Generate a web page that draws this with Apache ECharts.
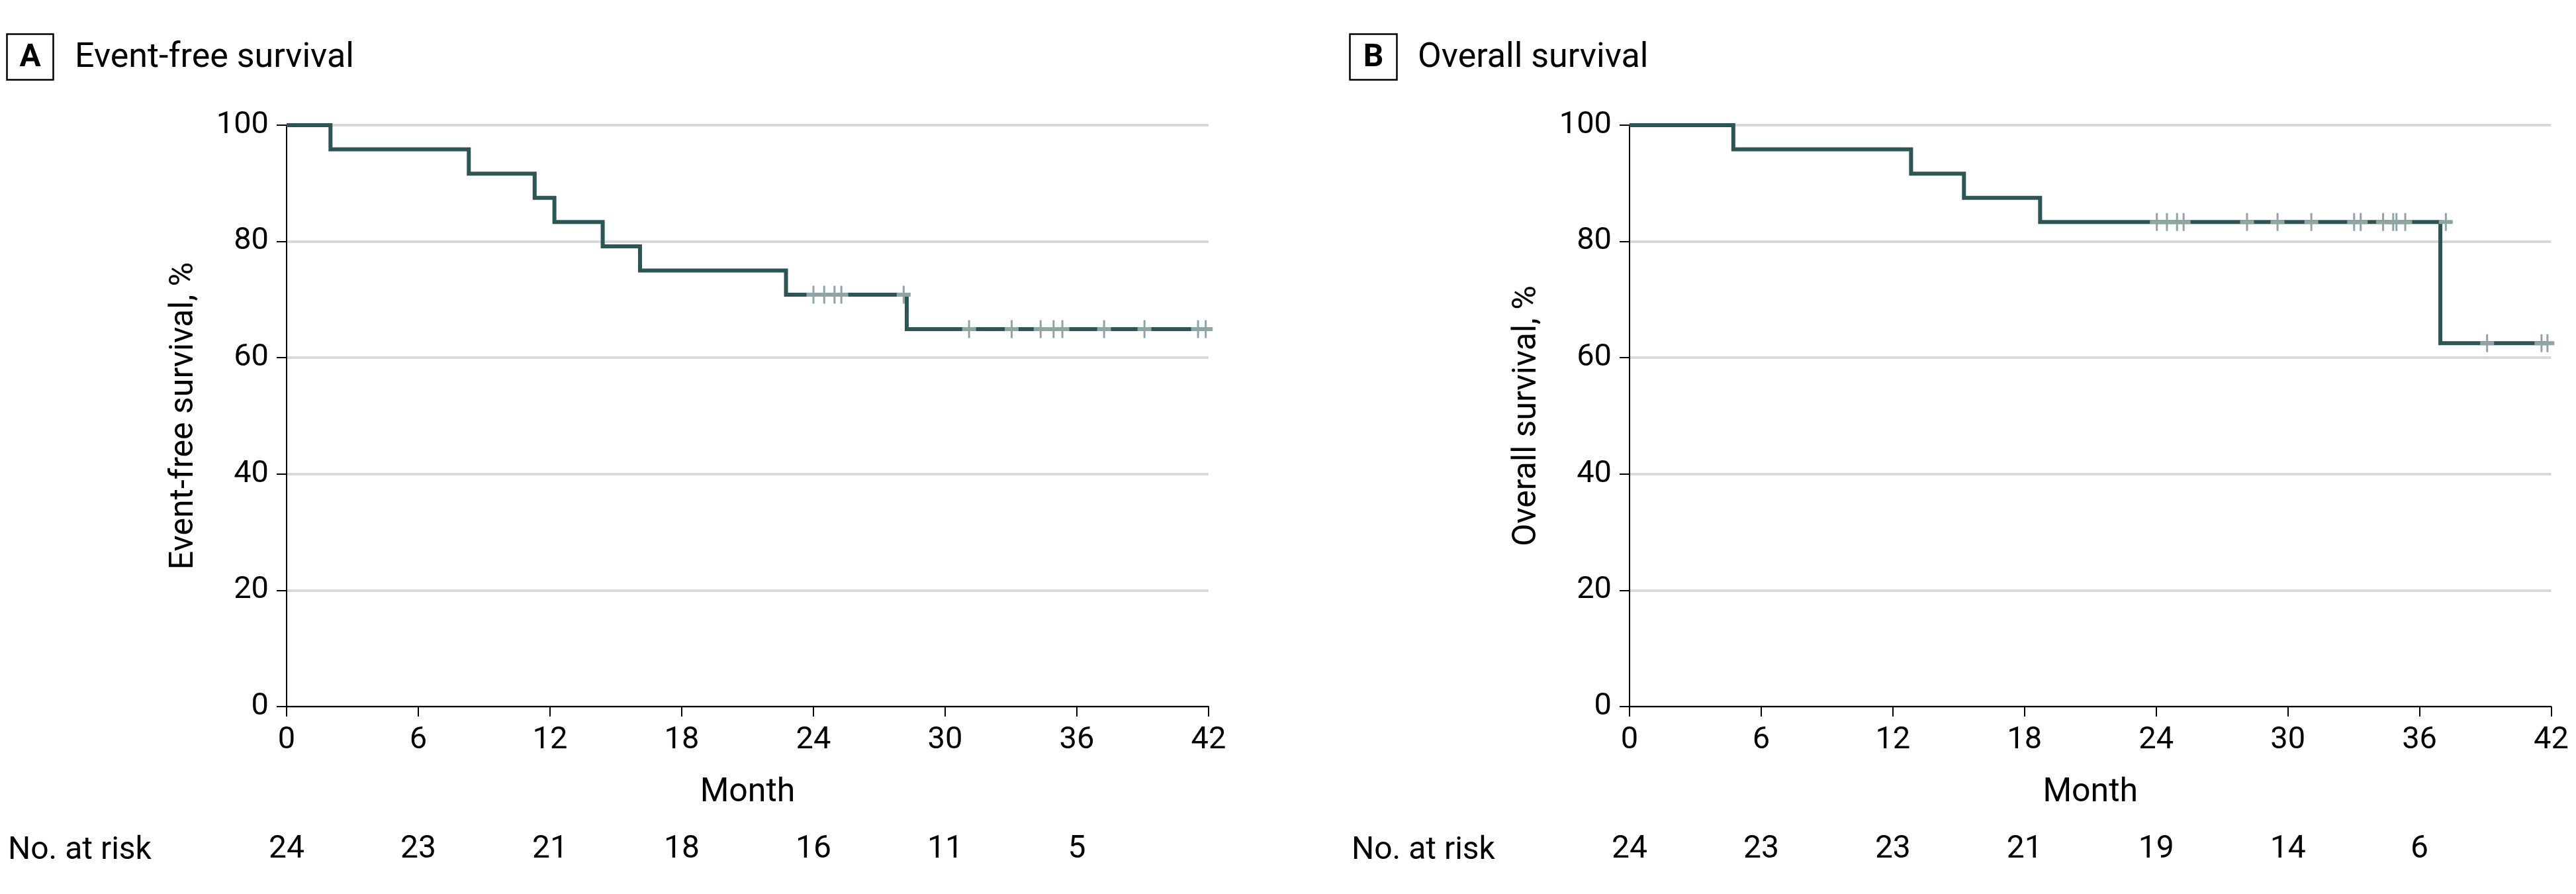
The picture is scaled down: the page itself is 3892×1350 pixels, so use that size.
<!DOCTYPE html>
<html><head><meta charset="utf-8">
<script src="https://cdn.jsdelivr.net/npm/echarts@6/dist/echarts.min.js"></script>
<style>html,body{margin:0;padding:0;background:#fff}#c{width:3892px;height:1350px}</style>
</head><body><div id="c"></div>
<script>
// ---- Data ----
const xTicks = [0, 6, 12, 18, 24, 30, 36, 42];
const yTicks = [0, 20, 40, 60, 80, 100];
const riskMonths = [0, 6, 12, 18, 24, 30, 36];
const efsRisk = [24, 23, 21, 18, 16, 11, 5];
const osRisk = [24, 23, 23, 21, 19, 14, 6];

// Event-free survival step curve (month, %)
const efsTimes = [0, 2.0, 8.3, 11.3, 12.2, 14.4, 16.1, 22.75, 28.25, 41.87];
const efsSurv  = [100, 95.83, 91.67, 87.5, 83.33, 79.17, 75.0, 70.83, 64.93, 64.93];
// EFS censor marks
const efsCensT = [24.0, 24.49, 24.96, 25.27, 28.11, 31.09, 33.03, 34.35, 34.94, 35.34, 37.24, 39.08, 41.52, 41.87];
const efsCensS = [70.83, 70.83, 70.83, 70.83, 70.83, 64.93, 64.93, 64.93, 64.93, 64.93, 64.93, 64.93, 64.93, 64.93];

// Overall survival step curve
const osTimes = [0, 4.73, 12.83, 15.24, 18.71, 36.95, 41.83];
const osSurv  = [100, 95.83, 91.67, 87.5, 83.33, 62.5, 62.5];
const osCensT = [24.03, 24.49, 24.95, 25.25, 28.14, 29.53, 31.07, 33.02, 33.32, 34.34, 34.8, 34.95, 35.35, 37.2, 39.08, 41.56, 41.83];
const osCensS = [83.33, 83.33, 83.33, 83.33, 83.33, 83.33, 83.33, 83.33, 83.33, 83.33, 83.33, 83.33, 83.33, 83.33, 62.5, 62.5, 62.5];

// ---- Chart ----
const FONT = 'Roboto';
const CURVE = '#2b5654', CENS = '#8fa5a3', GRIDC = '#d9d9d9';
const censorPath = 'path://M9,0H12V10.5H21V16.5H12V27H9V16.5H0V10.5H9Z';
const zip = (a, b) => a.map((v, i) => [v, b[i]]);

function mainX(gi) {
  return {gridIndex: gi, type: 'value', min: 0, max: 42, interval: 6,
    axisLine: {lineStyle: {color: '#000', width: 2}},
    axisTick: {length: 15, lineStyle: {color: '#000', width: 2}},
    axisLabel: {fontFamily: FONT, fontSize: 47, color: '#000', margin: 28,
      customValues: xTicks},
    splitLine: {show: false},
    name: 'Month', nameLocation: 'middle', nameGap: 105,
    nameTextStyle: {fontFamily: FONT, fontSize: 50, color: '#000'}};
}
function mainY(gi, name) {
  return {gridIndex: gi, type: 'value', min: 0, max: 100, interval: 20,
    axisLine: {show: true, lineStyle: {color: '#000', width: 2}},
    axisTick: {show: true, length: 15, lineStyle: {color: '#000', width: 2}},
    axisLabel: {fontFamily: FONT, fontSize: 47, color: '#000', margin: 27},
    splitLine: {show: true, lineStyle: {color: GRIDC, width: 4}},
    name: name, nameLocation: 'middle', nameGap: 130,
    nameTextStyle: {fontFamily: FONT, fontSize: 50, color: '#000'}};
}
function riskX(gi) { return {gridIndex: gi, type: 'value', min: 0, max: 42, show: false}; }
function riskY(gi) { return {gridIndex: gi, type: 'value', min: 0, max: 1, show: false}; }

function curve(idx, t, s) {
  return {type: 'line', xAxisIndex: idx, yAxisIndex: idx, data: zip(t, s), step: 'end',
    symbol: 'none', lineStyle: {color: CURVE, width: 6, join: 'miter', cap: 'butt'}, z: 3, silent: true};
}
function censors(idx, t, s) {
  return {type: 'scatter', xAxisIndex: idx, yAxisIndex: idx, data: zip(t, s),
    symbol: censorPath, symbolSize: [21, 27], itemStyle: {color: CENS, opacity: 1}, z: 4, silent: true};
}
function risk(idx, vals) {
  return {type: 'custom', xAxisIndex: idx, yAxisIndex: idx,
    data: riskMonths.map((m, i) => [m, 0.5, vals[i]]),
    renderItem: (params, api) => {
      const p = api.coord([api.value(0), api.value(1)]);
      return {type: 'text', x: p[0], y: p[1],
        style: {text: String(api.value(2)), fontFamily: FONT, fontSize: 48, fill: '#000',
          align: 'center', verticalAlign: 'middle'}};
    }, silent: true};
}

const chart = echarts.init(document.getElementById('c'), null, {renderer: 'canvas'});
chart.setOption({
  backgroundColor: '#fff',
  animation: false,
  grid: [
    {left: 433, right: 2066, top: 189, height: 878},
    {left: 2462, right: 37.5, top: 189, height: 878},
    {left: 433, right: 2066, top: 1243, height: 80},
    {left: 2462, right: 37.5, top: 1243, height: 80}
  ],
  xAxis: [mainX(0), mainX(1), riskX(2), riskX(3)],
  yAxis: [mainY(0, 'Event-free survival, %'), mainY(1, 'Overall survival, %'), riskY(2), riskY(3)],
  series: [
    curve(0, efsTimes, efsSurv), censors(0, efsCensT, efsCensS),
    curve(1, osTimes, osSurv), censors(1, osCensT, osCensS),
    risk(2, efsRisk), risk(3, osRisk)
  ],
  graphic: [
    {type: 'rect', shape: {x: 10.5, y: 51.5, width: 70, height: 69}, style: {fill: '#fff', stroke: '#000', lineWidth: 2.5}},
    {type: 'text', x: 45.5, y: 88, style: {text: 'A', font: 'bold 48px Roboto', fill: '#000', align: 'center', verticalAlign: 'middle'}},
    {type: 'text', x: 113, y: 88, style: {text: 'Event-free survival', font: '52px Roboto', fill: '#000', align: 'left', verticalAlign: 'middle'}},
    {type: 'rect', shape: {x: 2039.5, y: 51.5, width: 71, height: 69}, style: {fill: '#fff', stroke: '#000', lineWidth: 2.5}},
    {type: 'text', x: 2075, y: 88, style: {text: 'B', font: 'bold 48px Roboto', fill: '#000', align: 'center', verticalAlign: 'middle'}},
    {type: 'text', x: 2142, y: 88, style: {text: 'Overall survival', font: '52px Roboto', fill: '#000', align: 'left', verticalAlign: 'middle'}},
    {type: 'text', x: 12, y: 1285, style: {text: 'No. at risk', font: '48px Roboto', fill: '#000', align: 'left', verticalAlign: 'middle'}},
    {type: 'text', x: 2042, y: 1285, style: {text: 'No. at risk', font: '48px Roboto', fill: '#000', align: 'left', verticalAlign: 'middle'}}
  ]
});
</script></body></html>
